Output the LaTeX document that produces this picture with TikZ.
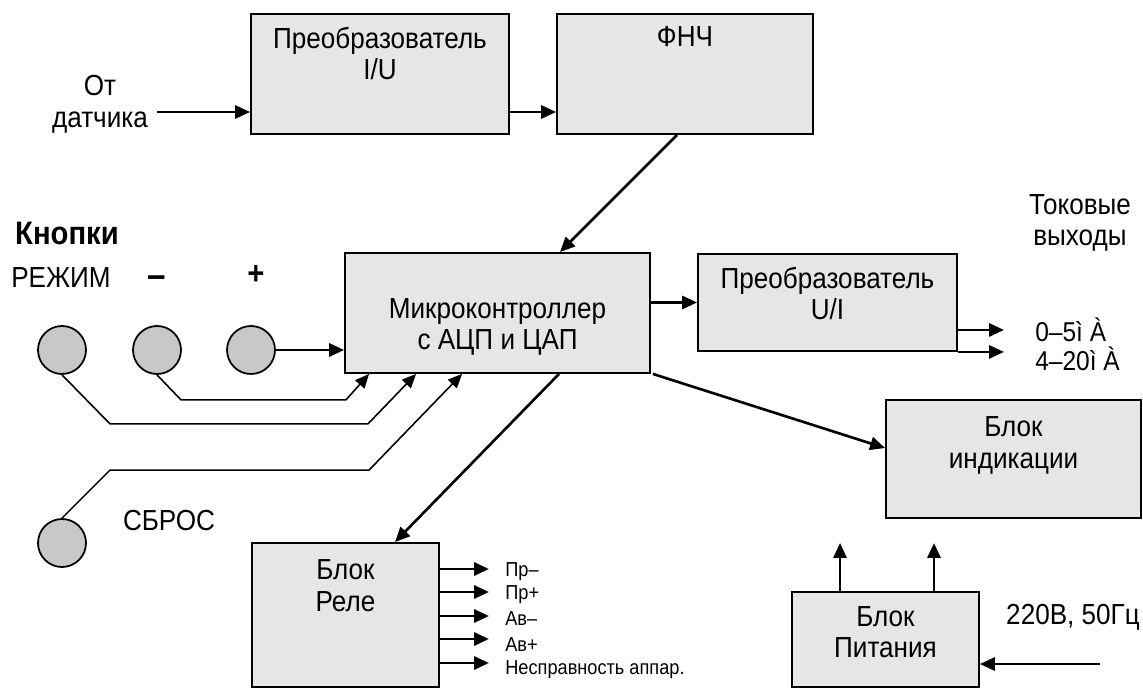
\documentclass[tikz,border=0pt]{standalone}
\usepackage{fontspec}
\setmainfont{Liberation Sans}[FakeStretch=0.9]
\usetikzlibrary{arrows.meta,positioning}
\definecolor{boxgray}{RGB}{230,230,230}
\definecolor{btngray}{RGB}{200,200,200}

\begin{document}
\begin{tikzpicture}[x=0.02cm,y=-0.02cm,
  blk/.style={draw, line width=1.1pt, fill=boxgray, inner sep=0pt},
  txt/.style={inner sep=0pt, align=center, font=\fontsize{16.5}{18}\selectfont},
  big/.style={inner sep=0pt, font=\fontsize{18.5}{20}\selectfont\bfseries},
  small/.style={inner sep=0pt, anchor=west, font=\fontsize{11.5}{14}\selectfont},
  btn/.style={circle, draw, line width=1pt, fill=btngray, minimum size=0.96cm, inner sep=0pt},
  arr/.style={line width=1.5pt, -{Triangle[length=8.5pt,width=7.5pt]}},
  wire/.style={line width=0.9pt, -{Triangle[length=8pt,width=7pt]}}]

  \useasboundingbox (0,0) rectangle (1143,689);

% Blocks
  \node[blk, minimum width=5.16cm, minimum height=2.4cm]  (iu)  at (380,74)      {};
  \node[txt, below=0.27cm of iu.north]                    (iut) {Преобразователь\\I/U};
  \node[blk, minimum width=5.12cm, minimum height=2.4cm]  (lpf) at (685,74)      {};
  \node[txt, below=0.27cm of lpf.north]                   (lpft) {ФНЧ};
  \node[blk, minimum width=6.1cm, minimum height=2.4cm]   (mc)  at (497.5,313)   {};
  \node[txt, below=0.92cm of mc.north]                    (mct) {Микроконтроллер\\с АЦП и ЦАП};
  \node[blk, minimum width=5.18cm, minimum height=1.94cm] (ui)  at (827.5,302.5) {};
  \node[txt, below=0.27cm of ui.north]                    (uit) {Преобразователь\\U/I};
  \node[blk, minimum width=5.1cm, minimum height=2.36cm]  (ind) at (1013.5,459)  {};
  \node[txt, below=0.35cm of ind.north]                   (indt) {Блок\\индикации};
  \node[blk, minimum width=3.74cm, minimum height=1.9cm]  (pwr) at (885.5,639.5) {};
  \node[txt, below=0.3cm of pwr.north]                    (pwrt) {Блок\\Питания};
  \node[blk, minimum width=3.74cm, minimum height=2.88cm] (rel) at (345.5,615)   {};
  \node[txt, below=0.35cm of rel.north]                   (relt) {Блок\\Реле};

% Buttons
  \node[btn] (b1) at (62,350)  {};
  \node[btn] (b2) at (157,350) {};
  \node[btn] (b3) at (251,350) {};
  \node[btn] (b4) at (62,543)  {};

% Labels
  \node[txt]  (src)   at (100,104)  {От\\датчика};
  \node[big]  (kn)    at (67,233)   {Кнопки};
  \node[txt]  (mode)  at (61,278)   {РЕЖИМ};
  \node[big, font=\fontsize{21}{22}\selectfont\bfseries] (minus) at (157,282) {–};
  \node[big]  (plus)  at (256,275)  {+};
  \node[txt]  (rst)   at (169,521)  {СБРОС};
  \node[txt]  (cur)   at (1080,223) {Токовые\\выходы};
  \node[txt, anchor=west, align=left, font=\fontsize{15.5}{16.5}\selectfont]
              (outs)  at (1035,344) {0–5ì À\\4–20ì À};
  \node[txt]  (ac)    at (1073,617) {220В, 50Гц};

  \coordinate (in)    at (157,112);
  \coordinate (mains) at (1100,664);
  \coordinate (t1) at ([xshift=0.5cm]mc.south west);
  \coordinate (t2) at ([xshift=1.44cm]mc.south west);
  \coordinate (t3) at ([xshift=2.36cm]mc.south west);

% Edges
  \draw[arr] (in) -- (in -| iu.west);
  \draw[arr] (iu.east |- in) -- (lpf.west |- in);
  \draw[arr] ([xshift=-0.16cm]lpf.south) -- ([xshift=1.25cm]mc.north);
  \draw[arr] (b3) -- (b3 -| mc.west);
  \draw[arr] (mc.east |- ui) -- (ui.west);
  \draw[arr] ([yshift=0.44cm]ui.south east) -- ++(46,0);
  \draw[arr] (ui.south east) -- ++(46,0);
  \draw[arr] ([xshift=0.04cm]mc.south east) -- ([yshift=0.22cm]ind.west);
  \draw[arr] ([xshift=1.23cm]mc.south) -- ([xshift=0.99cm]rel.north);
  \draw[arr] ([xshift=-0.91cm]pwr.north) -- ++(0,-48);
  \draw[arr] ([xshift=0.97cm]pwr.north) -- ++(0,-48);
  \draw[arr] (mains) -- (mains -| pwr.east);

% Wires from buttons
  \draw[wire] (b2.south) -- ++(24,25) -- ++(165,0) -- (t1);
  \draw[wire] (b1.south) -- ++(48,49) -- ++(258,0) -- (t2);
  \draw[wire] (b4.north) -- ++(48,-48) -- ++(259,0) -- (t3);

% Relay outputs
  \foreach \ya/\yt/\lbl [count=\i] in {569/572/Пр–, 592/595/Пр+, 616/619/Ав–,
      639/645/Ав+, 663/670/Несправность аппар.} {
    \draw[arr] (rel.east |- 0,\ya) -- ++(49,0);
    \node[small] (r\i) at (505,\yt) {\lbl};
  }

\end{tikzpicture}
\end{document}
